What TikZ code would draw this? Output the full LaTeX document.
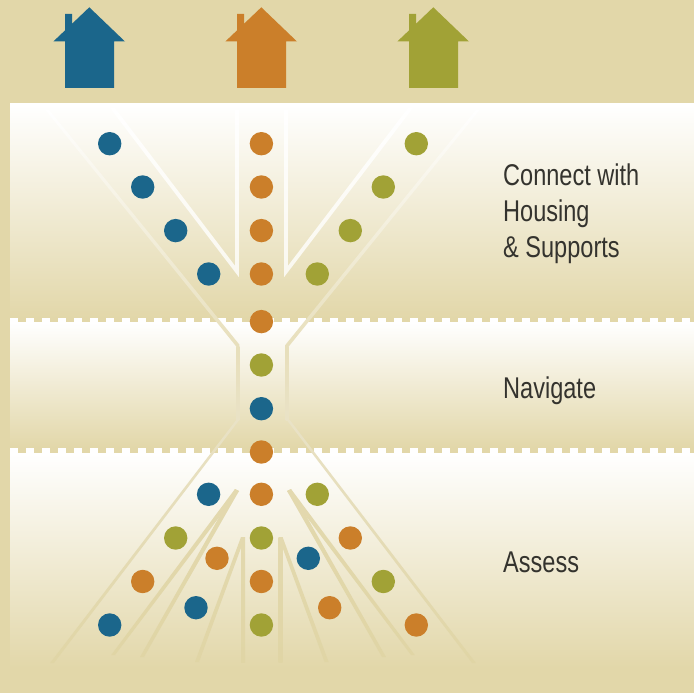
\documentclass[tikz,border=0pt]{standalone}
\usepackage{fontspec}
\setmainfont[FakeStretch=0.785]{Liberation Sans}
\definecolor{bgtan}{HTML}{E2D7A9}
\definecolor{linetan}{HTML}{E3D9AF}
\definecolor{linelow}{HTML}{E0D5A5}
\definecolor{linemid}{HTML}{E9E2C6}
\definecolor{hblue}{HTML}{1B668B}
\definecolor{horange}{HTML}{CB7F2A}
\definecolor{hgreen}{HTML}{A1A236}
\definecolor{labelc}{HTML}{34332E}
\tikzset{
  dot/.style={circle,inner sep=0pt,minimum size=23.4pt,fill=#1},
  panel/.style={top color=white,bottom color=bgtan},
  upfade/.style={top color=white,middle color=white!95!linetan!80!white,bottom color=linetan!85!white},
  neckfade/.style={top color=linetan!85!white,bottom color=linemid},
  lowfade/.style={top color=linemid,bottom color=linelow},
  branchfade/.style={top color=linetan,bottom color=linelow},
  vee/.style={top color=white,bottom color=white!82!bgtan},
  steplabel/.style={text=labelc,font=\fontsize{30}{35.7}\selectfont,align=left,inner sep=0pt},
}
\newcommand\myteeth[1]{\foreach \k in {0,...,42}{\fill[white] ({10+16*\k},#1) rectangle ({18+16*\k},#1+4.6);}}
\newcommand\myhouse[2]{\begin{scope}[shift={(#1,0)}]
  \fill[#2] (89.3,7.3) -- (125,41.5) -- (114,41.5) -- (114,88) -- (65,88) -- (65,41.5) -- (53.3,41.5) -- (65,30.4) -- (65,14) -- (72,14) -- (72,23.8) -- cycle;
\end{scope}}
\newcommand\myupper{
  \shade[upfade] (45.3,110) -- (49.3,110) -- (239.3,344.5) -- (239.3,347) -- (236.7,347) -- cycle;
  \shade[neckfade] (236.7,346.5) rectangle (239.3,420.5);
}
\newcommand\myvee{
  \shade[vee] (110,108) -- (238.8,277) -- (238.8,110) -- (235.2,110) -- (235.2,266) -- (115,108) -- cycle;
}
\newcommand\mylower{
  \shade[lowfade] (236.2,420) -- (239.3,420) -- (53.9,663) -- (50.1,663) -- cycle;
  \shade[branchfade] (235,489) -- (239,491) -- (115,655) -- (111.2,655) -- cycle;
  \shade[branchfade] (235,489) -- (239,491) -- (144,657) -- (140,657) -- cycle;
}
\newcommand\myinner{
  \shade[branchfade] (241,537) -- (245,537) -- (199,662) -- (195,662) -- cycle;
  \shade[branchfade] (241,537) -- (245,537) -- (245,662) -- (241,662) -- cycle;
}
\begin{document}
\begin{tikzpicture}[x=1pt,y=-1pt]
\useasboundingbox (0,0) rectangle (694,693);
\fill[bgtan] (0,0) rectangle (694,693);
% panels
\shade[panel] (10,104) rectangle (694,319);
\shade[panel] (10,322.4) rectangle (694,448);
\shade[panel] (10,453) rectangle (694,668);
\myteeth{318}
\myteeth{448.4}
% strands
\myupper \myvee \mylower \myinner
\begin{scope}[shift={(525,0)},xscale=-1]\myupper\end{scope}
\begin{scope}[shift={(523,0)},xscale=-1]\myvee\end{scope}
\begin{scope}[shift={(526,0)},xscale=-1]\mylower\end{scope}
\begin{scope}[shift={(523.6,0)},xscale=-1]\myinner\end{scope}
% houses
\myhouse{0}{hblue}
\myhouse{172}{horange}
\myhouse{344}{hgreen}
% dots
\node[dot=hblue] (b1) at (109.7,143.7) {};
\node[dot=hblue] (b2) at (142.7,187) {};
\node[dot=hblue] (b3) at (175.7,230.6) {};
\node[dot=hblue] (b4) at (208.7,274) {};
\node[dot=horange] (o1) at (261.4,143.7) {};
\node[dot=horange] (o2) at (261.4,187) {};
\node[dot=horange] (o3) at (261.4,230.6) {};
\node[dot=horange] (o4) at (261.4,274) {};
\node[dot=hgreen] (g1) at (416.3,143.7) {};
\node[dot=hgreen] (g2) at (383.3,187) {};
\node[dot=hgreen] (g3) at (350.3,230.6) {};
\node[dot=hgreen] (g4) at (317.3,274) {};
\node[dot=horange] (m1) at (261.4,321.6) {};
\node[dot=hgreen] (m2) at (261.4,365) {};
\node[dot=hblue] (m3) at (261.4,408.7) {};
\node[dot=horange] (m4) at (261.4,452) {};
\node[dot=hblue] (a1) at (208.6,494.3) {};
\node[dot=horange] (a2) at (261.4,494.3) {};
\node[dot=hgreen] (a3) at (317.3,494.3) {};
\node[dot=hgreen] (a4) at (175.7,538) {};
\node[dot=hgreen] (a5) at (261.4,538) {};
\node[dot=horange] (a6) at (350.3,538) {};
\node[dot=horange] (a7) at (217,558.3) {};
\node[dot=hblue] (a8) at (308.3,558.3) {};
\node[dot=horange] (a9) at (142.7,581.5) {};
\node[dot=horange] (a10) at (261.4,581.5) {};
\node[dot=hgreen] (a11) at (383.3,581.5) {};
\node[dot=hblue] (a12) at (196,607.7) {};
\node[dot=horange] (a13) at (329.7,607.7) {};
\node[dot=hblue] (a14) at (109.7,625) {};
\node[dot=hgreen] (a15) at (261.4,625) {};
\node[dot=horange] (a16) at (416.3,625) {};
% labels
\node[steplabel,anchor=north west] (connect) at (503,164) {Connect with\\Housing\\\& Supports};
\node[steplabel,anchor=base west] (navigate) at (503,398) {Navigate};
\node[steplabel,anchor=base west] (assess) at (503,572) {Assess};
\end{tikzpicture}
\end{document}
